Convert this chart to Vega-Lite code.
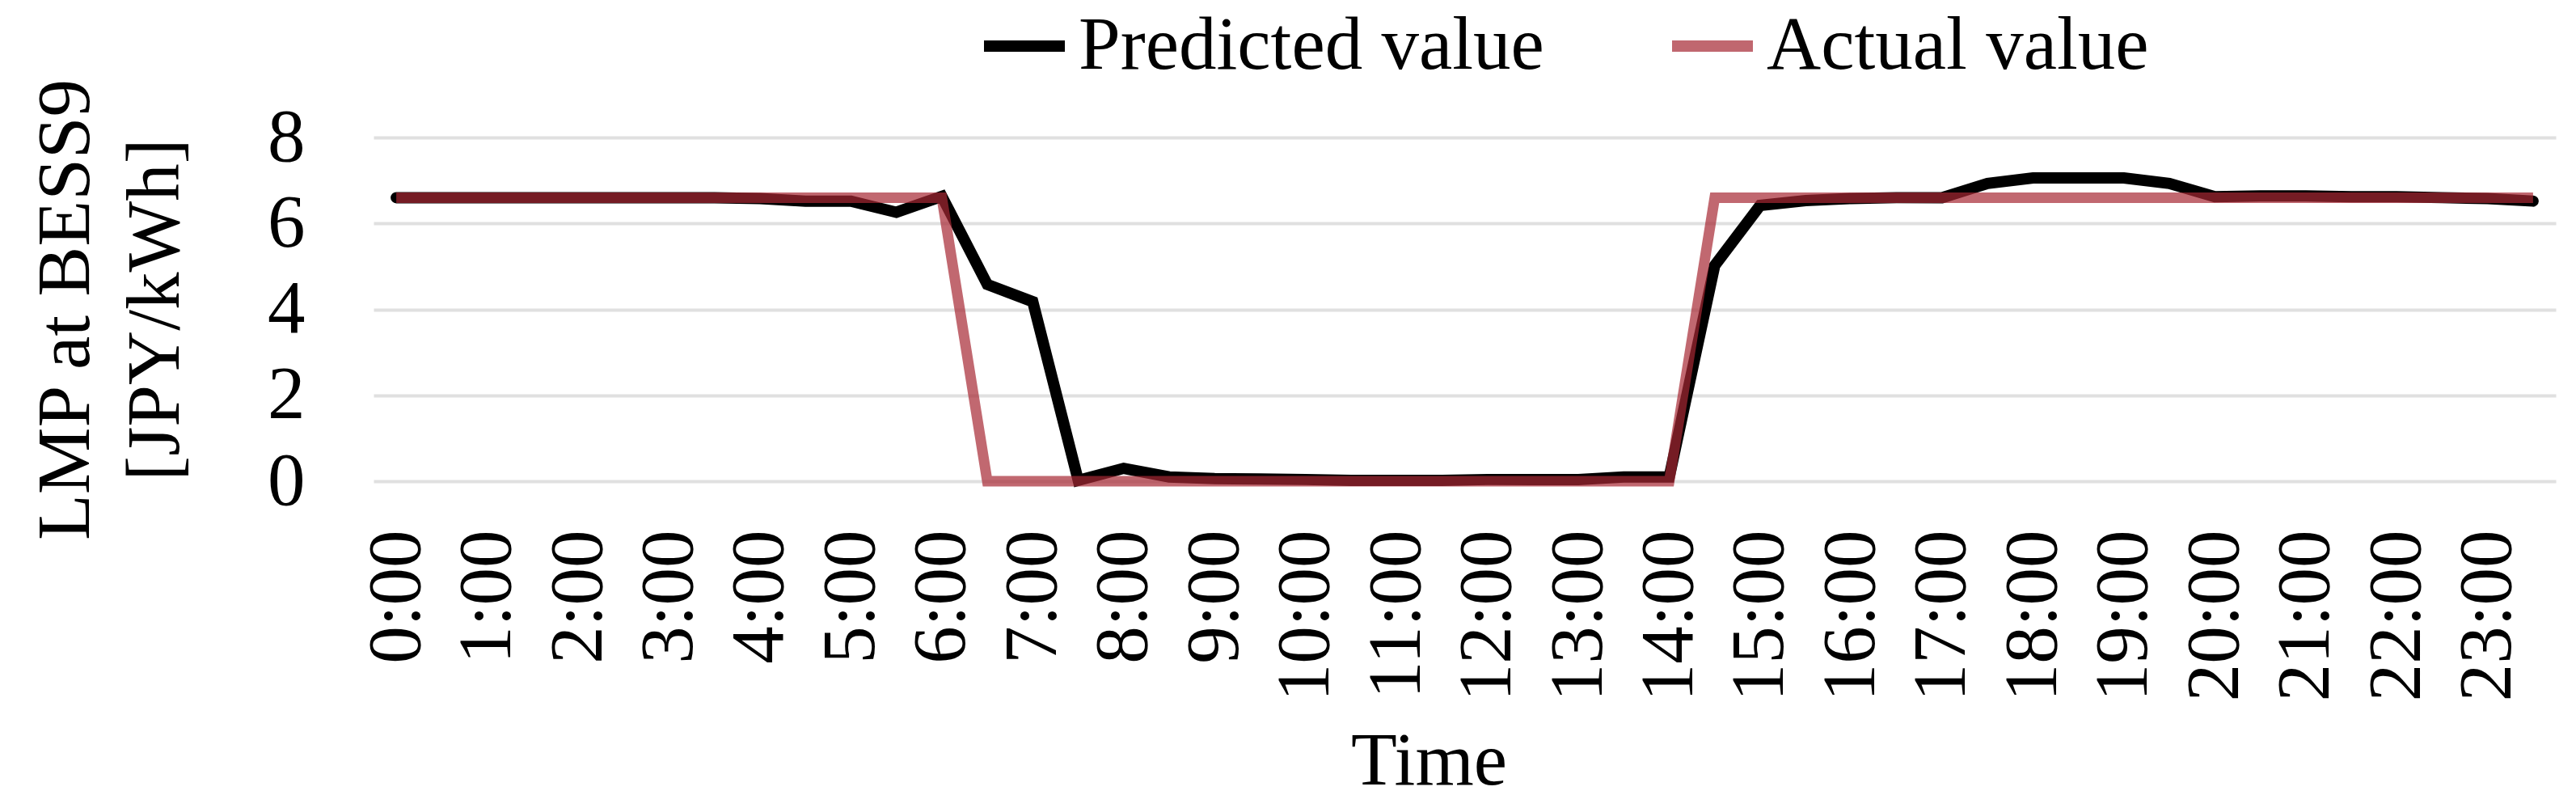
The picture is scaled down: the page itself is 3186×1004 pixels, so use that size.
{
  "$schema": "https://vega.github.io/schema/vega-lite/v6.json",
  "autosize": {"type": "none"},
  "padding": {"left": 462, "top": 170, "right": 25, "bottom": 409},
  "width": 2699,
  "height": 425,
  "background": "white",
  "config": {
    "view": {"stroke": null},
    "font": "Liberation Serif",
    "axis": {"labelFont": "Liberation Serif", "titleFont": "Liberation Serif", "labelColor": "#000000", "titleColor": "#000000", "titleFontWeight": "normal"},
    "legend": {"labelFont": "Liberation Serif", "labelColor": "#000000"}
  },
  "data": {
    "values": [
      {"t": "0:00", "s": "Predicted value", "v": 6.6},
      {"t": "0:30", "s": "Predicted value", "v": 6.6},
      {"t": "1:00", "s": "Predicted value", "v": 6.6},
      {"t": "1:30", "s": "Predicted value", "v": 6.6},
      {"t": "2:00", "s": "Predicted value", "v": 6.6},
      {"t": "2:30", "s": "Predicted value", "v": 6.6},
      {"t": "3:00", "s": "Predicted value", "v": 6.6},
      {"t": "3:30", "s": "Predicted value", "v": 6.6},
      {"t": "4:00", "s": "Predicted value", "v": 6.58},
      {"t": "4:30", "s": "Predicted value", "v": 6.52},
      {"t": "5:00", "s": "Predicted value", "v": 6.52},
      {"t": "5:30", "s": "Predicted value", "v": 6.26},
      {"t": "6:00", "s": "Predicted value", "v": 6.63},
      {"t": "6:30", "s": "Predicted value", "v": 4.58},
      {"t": "7:00", "s": "Predicted value", "v": 4.18},
      {"t": "7:30", "s": "Predicted value", "v": 0.02},
      {"t": "8:00", "s": "Predicted value", "v": 0.3},
      {"t": "8:30", "s": "Predicted value", "v": 0.1},
      {"t": "9:00", "s": "Predicted value", "v": 0.06},
      {"t": "9:30", "s": "Predicted value", "v": 0.05},
      {"t": "10:00", "s": "Predicted value", "v": 0.04},
      {"t": "10:30", "s": "Predicted value", "v": 0.02},
      {"t": "11:00", "s": "Predicted value", "v": 0.02},
      {"t": "11:30", "s": "Predicted value", "v": 0.02},
      {"t": "12:00", "s": "Predicted value", "v": 0.04},
      {"t": "12:30", "s": "Predicted value", "v": 0.04},
      {"t": "13:00", "s": "Predicted value", "v": 0.04},
      {"t": "13:30", "s": "Predicted value", "v": 0.1},
      {"t": "14:00", "s": "Predicted value", "v": 0.1},
      {"t": "14:30", "s": "Predicted value", "v": 5.02},
      {"t": "15:00", "s": "Predicted value", "v": 6.42},
      {"t": "15:30", "s": "Predicted value", "v": 6.53},
      {"t": "16:00", "s": "Predicted value", "v": 6.58},
      {"t": "16:30", "s": "Predicted value", "v": 6.6},
      {"t": "17:00", "s": "Predicted value", "v": 6.6},
      {"t": "17:30", "s": "Predicted value", "v": 6.93},
      {"t": "18:00", "s": "Predicted value", "v": 7.06},
      {"t": "18:30", "s": "Predicted value", "v": 7.06},
      {"t": "19:00", "s": "Predicted value", "v": 7.06},
      {"t": "19:30", "s": "Predicted value", "v": 6.93},
      {"t": "20:00", "s": "Predicted value", "v": 6.62},
      {"t": "20:30", "s": "Predicted value", "v": 6.64},
      {"t": "21:00", "s": "Predicted value", "v": 6.64},
      {"t": "21:30", "s": "Predicted value", "v": 6.62},
      {"t": "22:00", "s": "Predicted value", "v": 6.62},
      {"t": "22:30", "s": "Predicted value", "v": 6.6},
      {"t": "23:00", "s": "Predicted value", "v": 6.58},
      {"t": "23:30", "s": "Predicted value", "v": 6.52},
      {"t": "0:00", "s": "Actual value", "v": 6.6},
      {"t": "0:30", "s": "Actual value", "v": 6.6},
      {"t": "1:00", "s": "Actual value", "v": 6.6},
      {"t": "1:30", "s": "Actual value", "v": 6.6},
      {"t": "2:00", "s": "Actual value", "v": 6.6},
      {"t": "2:30", "s": "Actual value", "v": 6.6},
      {"t": "3:00", "s": "Actual value", "v": 6.6},
      {"t": "3:30", "s": "Actual value", "v": 6.6},
      {"t": "4:00", "s": "Actual value", "v": 6.6},
      {"t": "4:30", "s": "Actual value", "v": 6.6},
      {"t": "5:00", "s": "Actual value", "v": 6.6},
      {"t": "5:30", "s": "Actual value", "v": 6.6},
      {"t": "6:00", "s": "Actual value", "v": 6.6},
      {"t": "6:30", "s": "Actual value", "v": 0},
      {"t": "7:00", "s": "Actual value", "v": 0},
      {"t": "7:30", "s": "Actual value", "v": 0},
      {"t": "8:00", "s": "Actual value", "v": 0},
      {"t": "8:30", "s": "Actual value", "v": 0},
      {"t": "9:00", "s": "Actual value", "v": 0},
      {"t": "9:30", "s": "Actual value", "v": 0},
      {"t": "10:00", "s": "Actual value", "v": 0},
      {"t": "10:30", "s": "Actual value", "v": 0},
      {"t": "11:00", "s": "Actual value", "v": 0},
      {"t": "11:30", "s": "Actual value", "v": 0},
      {"t": "12:00", "s": "Actual value", "v": 0},
      {"t": "12:30", "s": "Actual value", "v": 0},
      {"t": "13:00", "s": "Actual value", "v": 0},
      {"t": "13:30", "s": "Actual value", "v": 0},
      {"t": "14:00", "s": "Actual value", "v": 0},
      {"t": "14:30", "s": "Actual value", "v": 6.6},
      {"t": "15:00", "s": "Actual value", "v": 6.6},
      {"t": "15:30", "s": "Actual value", "v": 6.6},
      {"t": "16:00", "s": "Actual value", "v": 6.6},
      {"t": "16:30", "s": "Actual value", "v": 6.6},
      {"t": "17:00", "s": "Actual value", "v": 6.6},
      {"t": "17:30", "s": "Actual value", "v": 6.6},
      {"t": "18:00", "s": "Actual value", "v": 6.6},
      {"t": "18:30", "s": "Actual value", "v": 6.6},
      {"t": "19:00", "s": "Actual value", "v": 6.6},
      {"t": "19:30", "s": "Actual value", "v": 6.6},
      {"t": "20:00", "s": "Actual value", "v": 6.6},
      {"t": "20:30", "s": "Actual value", "v": 6.6},
      {"t": "21:00", "s": "Actual value", "v": 6.6},
      {"t": "21:30", "s": "Actual value", "v": 6.6},
      {"t": "22:00", "s": "Actual value", "v": 6.6},
      {"t": "22:30", "s": "Actual value", "v": 6.6},
      {"t": "23:00", "s": "Actual value", "v": 6.6},
      {"t": "23:30", "s": "Actual value", "v": 6.6}
    ]
  },
  "encoding": {
    "x": {
      "field": "t",
      "type": "ordinal",
      "sort": null,
      "scale": {"type": "point", "padding": 0.5},
      "axis": {
        "title": "Time",
        "titleFontSize": 93,
        "titleX": 1305,
        "titleY": 301,
        "titleBaseline": "top",
        "labelFontSize": 93,
        "labelAngle": -90,
        "labelAlign": "right",
        "labelBaseline": "middle",
        "labelPadding": 60,
        "labelLimit": 1000,
        "ticks": false,
        "tickSize": 0,
        "domain": false,
        "grid": false,
        "labelOverlap": false,
        "values": ["0:00","1:00","2:00","3:00","4:00","5:00","6:00","7:00","8:00","9:00","10:00","11:00","12:00","13:00","14:00","15:00","16:00","17:00","18:00","19:00","20:00","21:00","22:00","23:00"]
      }
    },
    "y": {
      "field": "v",
      "type": "quantitative",
      "scale": {"domain": [0, 8], "nice": false},
      "axis": {
        "title": ["LMP at BESS9", "[JPY/kWh]"],
        "titleFontSize": 93,
        "titleLineHeight": 111,
        "titlePadding": 90,
        "labelFontSize": 93,
        "labelPadding": 85,
        "ticks": false,
        "tickSize": 0,
        "domain": false,
        "grid": true,
        "gridColor": "#E0E0E0",
        "gridWidth": 4,
        "values": [0, 2, 4, 6, 8]
      }
    },
    "color": {
      "field": "s",
      "type": "nominal",
      "scale": {"domain": ["Predicted value", "Actual value"], "range": ["#000000", "#A62833"]},
      "legend": {
        "title": null,
        "orient": "none",
        "direction": "horizontal",
        "legendX": 748,
        "legendY": -170,
        "padding": 0,
        "labelFontSize": 93,
        "labelLimit": 2000,
        "labelOffset": 10,
        "columnPadding": 130,
        "symbolType": "stroke",
        "symbolSize": 10000,
        "symbolStrokeWidth": 14
      }
    },
    "opacity": {
      "field": "s",
      "type": "nominal",
      "scale": {"domain": ["Predicted value", "Actual value"], "range": [1, 0.7]}
    }
  },
  "layer": [
    {
      "transform": [{"filter": "datum.s === 'Predicted value'"}],
      "mark": {"type": "line", "strokeWidth": 14, "strokeCap": "round", "strokeJoin": "miter"}
    },
    {
      "transform": [{"filter": "datum.s === 'Actual value'"}],
      "mark": {"type": "line", "strokeWidth": 13, "strokeCap": "butt", "strokeJoin": "miter"}
    }
  ]
}
